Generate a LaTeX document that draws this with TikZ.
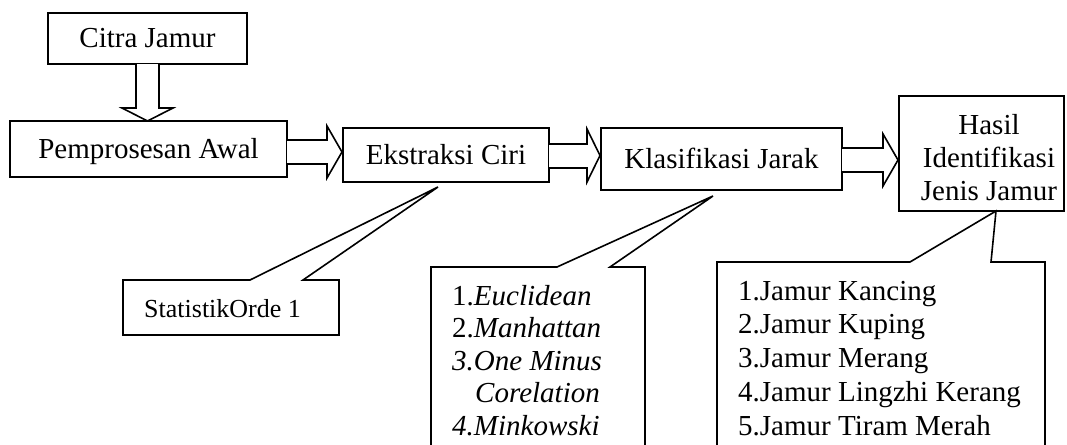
\documentclass[tikz,border=0pt]{standalone}
\usepackage{fontspec}
\setmainfont{Liberation Serif}
\begin{document}
\begin{tikzpicture}[x=1pt,y=-1pt,
  box/.style={draw, line width=1.6pt, rectangle, inner sep=0pt, fill=white, text height=22pt, text depth=3pt, font=\fontsize{29}{33}\selectfont},
  blk/.style={draw, line width=1.6pt, fill=white, line join=miter},
  txt/.style={inner sep=0pt, font=\fontsize{29}{33.75}\selectfont},
]
\useasboundingbox (0,0) rectangle (1067,444);
\clip (0,0) rectangle (1067,444);

% main boxes
\node[box, minimum width=199pt, minimum height=51pt] (citra) at (147.5,38.5) {Citra Jamur};
\node[box, minimum width=277pt, minimum height=56pt] (pra) at (148.5,149) {Pemprosesan Awal};
\node[box, minimum width=206pt, minimum height=54pt] (eks) at (446,155) {Ekstraksi Ciri};
\node[box, minimum width=241pt, minimum height=62pt] (kla) at (721.5,159) {Klasifikasi Jarak};
\node[box, minimum width=165pt, minimum height=115pt, text height=0pt, text depth=0pt] (hasil) at (981.5,153.5) {};
\node[txt, font=\fontsize{29}{33}\selectfont, anchor=base] (hasilt) at (989,134)
  {\begin{tabular}[t]{@{}c@{}}Hasil\\Identifikasi\\Jenis Jamur\end{tabular}};

% block arrows
\draw[blk] (136,64) -- (136,108) -- (122,108) -- (147.5,121) -- (173,108) -- (159,108) -- (159,64);
\draw[blk] (287,140) -- (327,140) -- (327,126) -- (342,152) -- (327,178) -- (327,164) -- (287,164);
\draw[blk] (549,144) -- (587,144) -- (587,129) -- (600,155.5) -- (587,182) -- (587,168) -- (549,168);
\draw[blk] (842,148) -- (883,148) -- (883,134) -- (898,160) -- (883,186) -- (883,172) -- (842,172);

% callouts
\draw[blk] (123,280) -- (250,280) -- (438,187) -- (303,280) -- (339,280) -- (339,335) -- (123,335) -- cycle;
\draw[blk] (431,460) -- (431,267) -- (557,267) -- (713,196) -- (610,267) -- (645,267) -- (645,460);
\draw[blk] (717,460) -- (717,262) -- (910,262) -- (996,211) -- (991,262) -- (1045,262) -- (1045,460);

% callout texts
\node[txt, font=\fontsize{26}{30}\selectfont, anchor=base west] (stat) at (144,317) {StatistikOrde 1};
\node[txt, font=\fontsize{29}{32.5}\selectfont, anchor=base west] (jarak) at (452,305)
  {\begin{tabular}[t]{@{}l@{}}1.\textit{Euclidean}\\2.\textit{Manhattan}\\\textit{3.One Minus}\\\hspace{23pt}\textit{Corelation}\\\textit{4.Minkowski}\end{tabular}};
\node[txt, anchor=base west] (jenis) at (738,300)
  {\begin{tabular}[t]{@{}l@{}}1.Jamur Kancing\\2.Jamur Kuping\\3.Jamur Merang\\4.Jamur Lingzhi Kerang\\5.Jamur Tiram Merah\end{tabular}};
\end{tikzpicture}
\end{document}
